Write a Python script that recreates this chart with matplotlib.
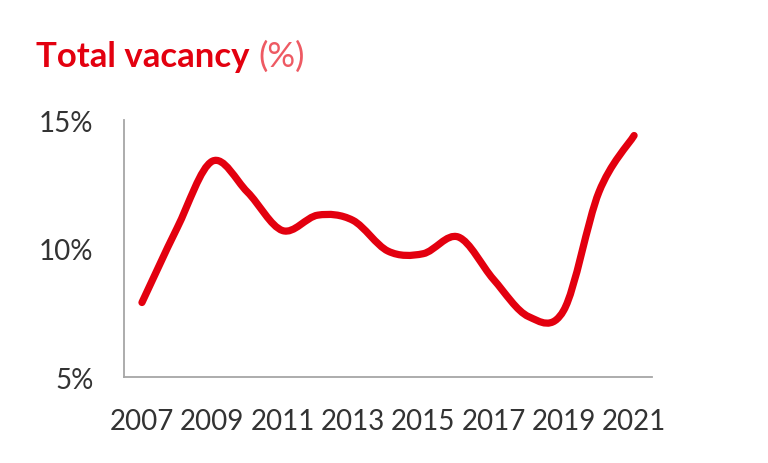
import numpy as np
import matplotlib
matplotlib.use("Agg")
import matplotlib.pyplot as plt
from matplotlib.path import Path
from matplotlib.patches import PathPatch

# Total vacancy (%) by year
years = [2007, 2008, 2009, 2010, 2011, 2012, 2013, 2014, 2015, 2016, 2017, 2018, 2019, 2020, 2021]
vacancy = [7.9, 10.8, 13.4, 12.2, 10.7, 11.3, 11.1, 9.9, 9.8, 10.45, 8.8, 7.35, 7.6, 12.2, 14.4]
xticks = [2007, 2009, 2011, 2013, 2015, 2017, 2019, 2021]
yticks = [5, 10, 15]

RED = "#e3000f"
FONT = "Lato"


def smooth_path(x, y):
    """Excel-style smoothed line: cubic Bezier segments through every point."""
    x = np.asarray(x, float)
    y = np.asarray(y, float)
    n = len(x)
    verts = [(x[0], y[0])]
    codes = [Path.MOVETO]
    for i in range(n - 1):
        i0, i3 = max(i - 1, 0), min(i + 2, n - 1)
        c1 = (x[i] + (x[i + 1] - x[i0]) / 6, y[i] + (y[i + 1] - y[i0]) / 6)
        c2 = (x[i + 1] - (x[i3] - x[i]) / 6, y[i + 1] - (y[i3] - y[i]) / 6)
        verts += [c1, c2, (x[i + 1], y[i + 1])]
        codes += [Path.CURVE4] * 3
    return Path(verts, codes)


fig = plt.figure(figsize=(7.68, 4.64), dpi=100)
ax = fig.add_axes([0.1615, 0.1853, 0.6875, 0.5537])

ax.add_patch(PathPatch(smooth_path(years, vacancy), facecolor="none", edgecolor=RED,
                       lw=5.2, capstyle="round", joinstyle="round"))

ax.set_xlim(2006.49, 2021.51)
ax.set_ylim(5, 15)
ax.set_xticks(xticks)
ax.set_xticklabels([str(t) for t in xticks])
ax.set_yticks(yticks)
ax.set_yticklabels([f"{t}%" for t in yticks])
ax.tick_params(length=0, labelsize=20, labelcolor="#333333", pad=22)
for lab in ax.get_xticklabels() + ax.get_yticklabels():
    lab.set_family(FONT)

for side in ["top", "right"]:
    ax.spines[side].set_visible(False)
for side in ["left", "bottom"]:
    ax.spines[side].set_color("#a6a6a6")
    ax.spines[side].set_linewidth(1.3)

t1 = fig.text(36 / 768, 1 - 67 / 464, "Total vacancy", color=RED, fontsize=25,
              fontweight="bold", family=FONT, va="baseline")
fig.canvas.draw()
bb = t1.get_window_extent()
fig.text(bb.x1 / 768 + 9 / 768, 1 - 67 / 464, "(%)", color="#ee5a63", fontsize=25,
         family=FONT, va="baseline")

fig.savefig("out.png", dpi=100)
